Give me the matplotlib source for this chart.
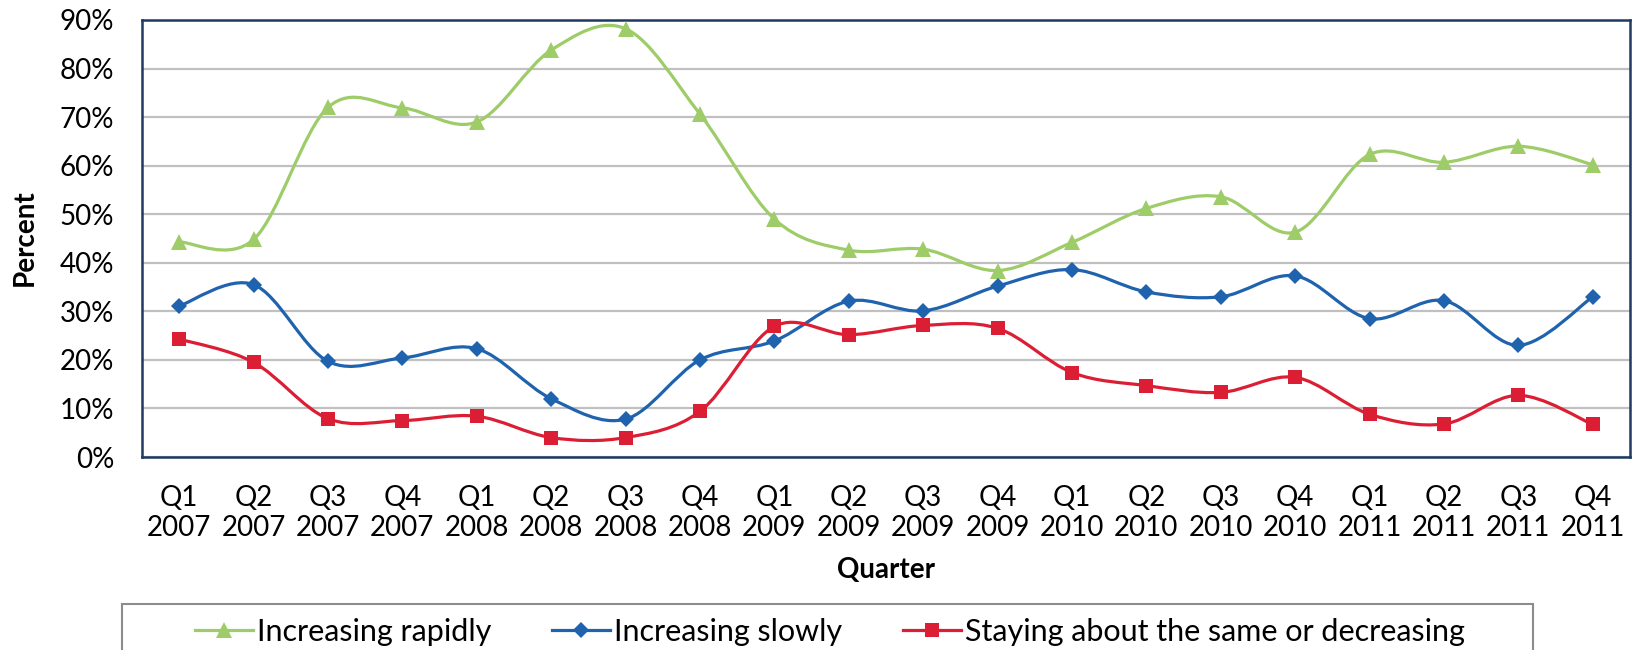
import numpy as np
import matplotlib
matplotlib.use('Agg')
from matplotlib import pyplot as plt
from matplotlib.path import Path
from matplotlib.patches import PathPatch, Rectangle
from matplotlib.lines import Line2D

quarters = ['Q1\n2007', 'Q2\n2007', 'Q3\n2007', 'Q4\n2007',
            'Q1\n2008', 'Q2\n2008', 'Q3\n2008', 'Q4\n2008',
            'Q1\n2009', 'Q2\n2009', 'Q3\n2009', 'Q4\n2009',
            'Q1\n2010', 'Q2\n2010', 'Q3\n2010', 'Q4\n2010',
            'Q1\n2011', 'Q2\n2011', 'Q3\n2011', 'Q4\n2011']

rapidly = [44.3, 44.8, 72.0, 71.9, 69.0, 83.8, 88.2, 70.6, 49.0, 42.6,
           42.8, 38.4, 44.2, 51.2, 53.6, 46.3, 62.3, 60.7, 64.0, 60.2]
slowly = [31.1, 35.5, 19.7, 20.4, 22.3, 12.0, 7.8, 20.0, 23.9, 32.1,
          30.1, 35.2, 38.6, 34.0, 33.0, 37.3, 28.5, 32.2, 23.0, 33.0]
same = [24.3, 19.5, 7.9, 7.5, 8.4, 4.0, 4.0, 9.4, 26.9, 25.2,
        27.1, 26.5, 17.4, 14.7, 13.3, 16.4, 8.8, 6.8, 12.7, 6.7]

labels = ['Increasing rapidly', 'Increasing slowly',
          'Staying about the same or decreasing']

plt.rcParams['font.family'] = ['Lato', 'DejaVu Sans']
FS = 20


def smooth_path(x, y):
    # catmull-rom style bezier, like excel "smoothed line"
    pts = np.column_stack([x, y]).astype(float)
    n = len(pts)
    verts = [pts[0]]
    codes = [Path.MOVETO]
    for i in range(n - 1):
        p0 = pts[i - 1] if i > 0 else pts[i]
        p1 = pts[i]
        p2 = pts[i + 1]
        p3 = pts[i + 2] if i + 2 < n else pts[i + 1]
        c1 = p1 + (p2 - p0) / 6.0
        c2 = p2 - (p3 - p1) / 6.0
        verts += [c1, c2, p2]
        codes += [Path.CURVE4] * 3
    return Path(verts, codes)


fig = plt.figure(figsize=(16.32, 6.5), dpi=100)
ax = fig.add_axes([142 / 1632, 1 - 457 / 650, (1630 - 142) / 1632, (457 - 20) / 650])

x = np.arange(len(quarters))
series = [(rapidly, '#9DCC68', '^', 11.5),
          (slowly, '#1F62AE', 'D', 7.8),
          (same, '#DC1E34', 's', 9.5)]

handles = []
for vals, col, mk, ms in series:
    ax.add_patch(PathPatch(smooth_path(x, vals), facecolor='none',
                           edgecolor=col, lw=2.3, zorder=3))
    ax.plot(x, vals, linestyle='none', marker=mk, ms=ms, color=col,
            markeredgewidth=0, zorder=4)
    handles.append(Line2D([], [], color=col, lw=2.3, marker=mk, ms=ms,
                          markeredgewidth=0))

ax.set_xlim(-0.5, len(quarters) - 0.5)
ax.set_ylim(0, 90)
ax.set_yticks(np.arange(0, 91, 10))
ax.set_yticklabels(['%d%%' % v for v in range(0, 91, 10)])
ax.set_xticks(x)
ax.set_xticklabels(quarters, linespacing=1.2)
ax.tick_params(axis='both', length=0, labelsize=FS, colors='black')
ax.tick_params(axis='y', pad=20)
ax.tick_params(axis='x', pad=20)
ax.yaxis.grid(True, color='#C0C0C0', lw=1.6)
ax.set_axisbelow(True)
for s in ax.spines.values():
    s.set_color('#1F3A60')
    s.set_linewidth(1.8)

fig.text(25 / 1632, 1 - 238 / 650, 'Percent', rotation=90, ha='center',
         va='center', fontsize=FS, fontweight='bold')
fig.text(886 / 1632, 1 - 570 / 650, 'Quarter', ha='center', va='center',
         fontsize=FS, fontweight='bold')

# legend box runs off the bottom of the image
fig.patches.append(Rectangle((122 / 1632, -0.1), (1533 - 122) / 1632,
                             1 - 604 / 650 + 0.1, transform=fig.transFigure,
                             facecolor='white', edgecolor='#8C8C8C', lw=1.5))
fig.legend(handles, labels, ncol=3, frameon=False, fontsize=22,
           loc='center', bbox_to_anchor=(830 / 1632, 1 - 632 / 650),
           handlelength=1.9, handletextpad=0.13, columnspacing=2.0)

fig.savefig('out.png', dpi=100)
